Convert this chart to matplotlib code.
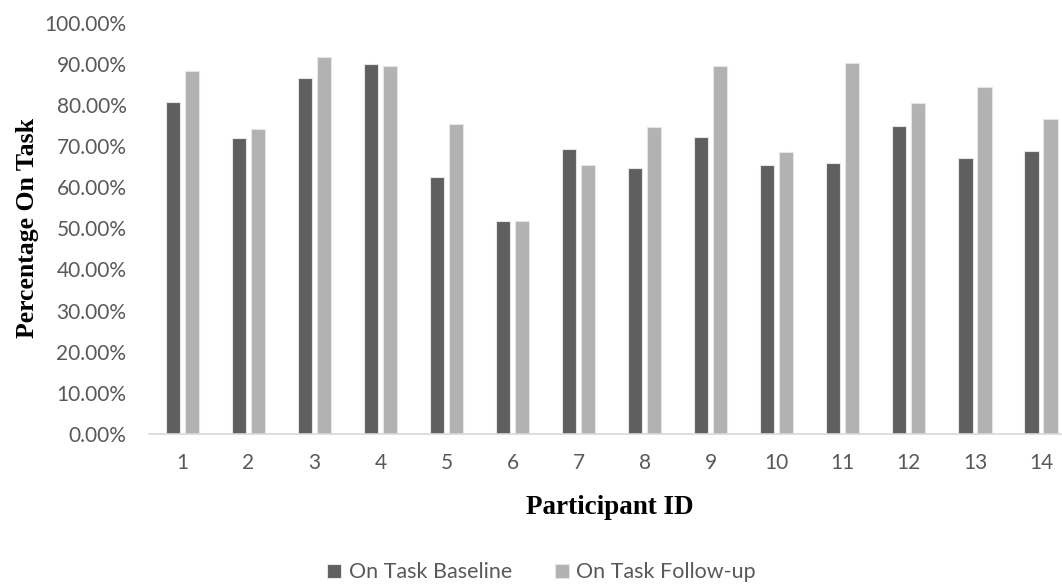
import matplotlib
matplotlib.use("Agg")
import matplotlib.pyplot as plt
import numpy as np
from matplotlib.ticker import PercentFormatter

participants = [str(i) for i in range(1, 15)]
baseline = [80.7, 71.9, 86.6, 90.0, 62.6, 51.7, 69.2, 64.6, 72.1, 65.4, 65.8, 74.9, 67.1, 68.9]
follow_up = [88.3, 74.1, 91.7, 89.4, 75.3, 51.8, 65.3, 74.6, 89.6, 68.5, 90.2, 80.4, 84.3, 76.7]

DARK = "#5f5f5f"
LIGHT = "#b2b2b2"
TEXT = "#595959"

fig = plt.figure(figsize=(10.62, 5.84), dpi=100)
# plot area runs a little past the right edge, as in the source image
ax = fig.add_axes([0.1406, 0.257, 0.8707, 0.704])

x = np.arange(len(participants))
w = 0.215
off = 0.144
ax.bar(x - off, baseline, w, color=DARK, edgecolor="#e6e6e6", linewidth=0.8,
       label="On Task Baseline")
ax.bar(x + off, follow_up, w, color=LIGHT, edgecolor="#e6e6e6", linewidth=0.8,
       label="On Task Follow-up")

ax.set_xlim(-0.5, len(participants) - 0.5)
ax.set_ylim(0, 100)
ax.set_yticks(np.arange(0, 101, 10))
ax.yaxis.set_major_formatter(PercentFormatter(decimals=2))
ax.set_xticks(x)
ax.set_xticklabels(participants)
ax.tick_params(length=0, labelsize=15, labelcolor=TEXT)
ax.tick_params(axis="x", pad=13.5)
ax.tick_params(axis="y", pad=16.5)
for lab in ax.get_xticklabels() + ax.get_yticklabels():
    lab.set_family("Lato")

for side in ("top", "right", "left"):
    ax.spines[side].set_visible(False)
ax.spines["bottom"].set_color("#d9d9d9")
ax.spines["bottom"].set_linewidth(1.2)

ax.set_ylabel("Percentage On Task", family="Liberation Serif", fontweight="bold",
              fontsize=18.5, color="black", va="center")
ax.yaxis.set_label_coords(-0.132, 0.5)
ax.set_xlabel("Participant ID", family="Liberation Serif", fontweight="bold",
              fontsize=19.5, color="black", va="center")
ax.xaxis.set_label_coords((610 - 149.3) / 924.7, -0.179)

fig.legend(loc="center", bbox_to_anchor=(0.51, 0.02), ncol=2, frameon=False,
           prop={"family": "Lato", "size": 15.5}, labelcolor=TEXT,
           handlelength=0.65, handleheight=0.65, handletextpad=0.35, columnspacing=2.0)

fig.savefig("out.png", dpi=100)
